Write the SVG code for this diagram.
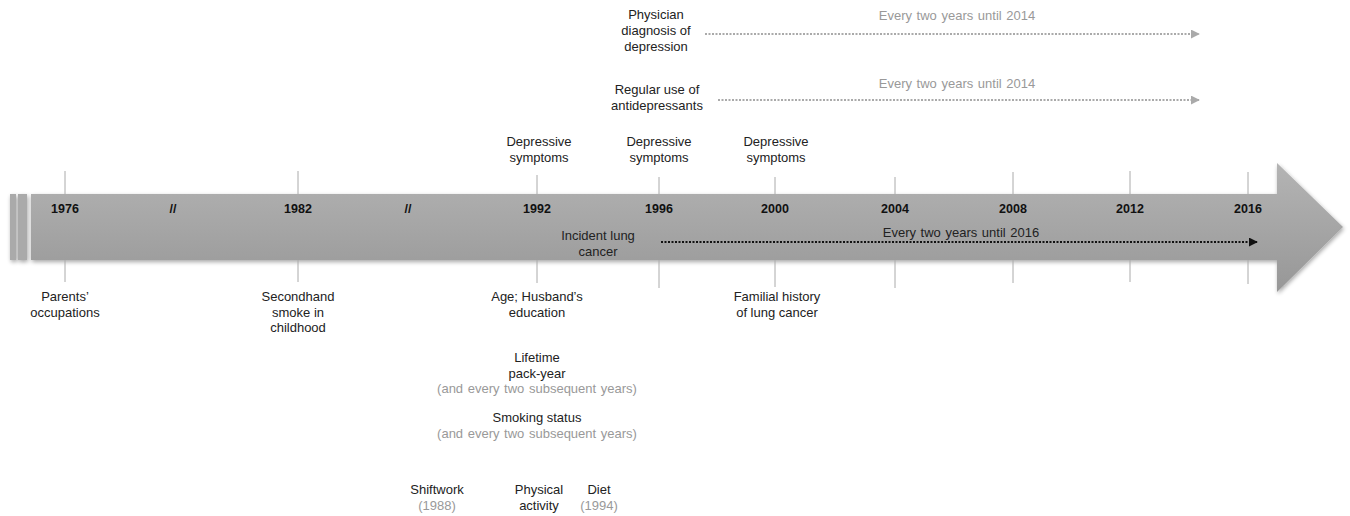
<svg xmlns="http://www.w3.org/2000/svg" width="1350" height="516" viewBox="0 0 1350 516">
<style>
text{font-family:"Liberation Sans",Arial,sans-serif;font-size:13px;fill:#222;text-anchor:middle}
.yr{font-weight:bold;font-size:12.5px;fill:#111}
.g{fill:#999;word-spacing:1px}
.tk{stroke:#aaa;stroke-width:1}
.dk{stroke:#111;stroke-width:2;stroke-dasharray:2,1.5;fill:none}
.dg{stroke:#aaa;stroke-width:2;stroke-dasharray:2,1.5;fill:none}
</style>
<defs>
<linearGradient id="bar" x1="0" y1="0" x2="0" y2="1">
<stop offset="0" stop-color="#b4b4b4"/>
<stop offset="1" stop-color="#979797"/>
</linearGradient>
<filter id="sh" x="-5%" y="-20%" width="110%" height="140%">
<feGaussianBlur in="SourceAlpha" stdDeviation="2"/>
<feOffset dx="1" dy="2"/>
<feComponentTransfer><feFuncA type="linear" slope="0.35"/></feComponentTransfer>
<feMerge><feMergeNode/><feMergeNode in="SourceGraphic"/></feMerge>
</filter>
<marker id="ak" viewBox="0 0 10 10" refX="9" refY="5" markerWidth="4.5" markerHeight="4.5" orient="auto"><path d="M0,0L10,5L0,10z" fill="#111"/></marker>
<marker id="ag" viewBox="0 0 10 10" refX="9" refY="5" markerWidth="4.5" markerHeight="4.5" orient="auto"><path d="M0,0L10,5L0,10z" fill="#aaa"/></marker>
</defs>

<g id="timeline-arrow" filter="url(#sh)">
<rect x="10" y="194" width="6" height="66" fill="#aaa"/>
<rect x="18" y="194" width="9" height="66" fill="#aaa"/>
<path d="M31,194 H1277 V163 L1343,227 L1277,292 V260 H31 Z" fill="url(#bar)"/>
</g>

<g id="ticks">
<line class="tk" x1="65" y1="171" x2="65" y2="194"/><line class="tk" x1="65" y1="260" x2="65" y2="282"/>
<line class="tk" x1="298" y1="171" x2="298" y2="194"/><line class="tk" x1="298" y1="260" x2="298" y2="282"/>
<line class="tk" x1="537" y1="175" x2="537" y2="194"/><line class="tk" x1="537" y1="260" x2="537" y2="283"/>
<line class="tk" x1="659" y1="177" x2="659" y2="194"/><line class="tk" x1="659" y1="260" x2="659" y2="288"/>
<line class="tk" x1="775" y1="177" x2="775" y2="194"/><line class="tk" x1="775" y1="260" x2="775" y2="287"/>
<line class="tk" x1="895" y1="177" x2="895" y2="194"/><line class="tk" x1="895" y1="260" x2="895" y2="288"/>
<line class="tk" x1="1013" y1="172" x2="1013" y2="194"/><line class="tk" x1="1013" y1="260" x2="1013" y2="283"/>
<line class="tk" x1="1130" y1="171" x2="1130" y2="194"/><line class="tk" x1="1130" y1="260" x2="1130" y2="282"/>
<line class="tk" x1="1248" y1="172" x2="1248" y2="194"/><line class="tk" x1="1248" y1="260" x2="1248" y2="284"/>
</g>

<g id="years">
<text class="yr" x="65" y="213">1976</text>
<text class="yr" x="173" y="213">//</text>
<text class="yr" x="298" y="213">1982</text>
<text class="yr" x="408" y="213">//</text>
<text class="yr" x="537" y="213">1992</text>
<text class="yr" x="659" y="213">1996</text>
<text class="yr" x="775" y="213">2000</text>
<text class="yr" x="895" y="213">2004</text>
<text class="yr" x="1013" y="213">2008</text>
<text class="yr" x="1130" y="213">2012</text>
<text class="yr" x="1248" y="213">2016</text>
</g>

<g id="connectors">
<line class="dk" x1="661" y1="242" x2="1257" y2="242" marker-end="url(#ak)"/>
<line class="dg" x1="705" y1="34" x2="1199" y2="34" marker-end="url(#ag)"/>
<line class="dg" x1="718" y1="100" x2="1199" y2="100" marker-end="url(#ag)"/>
</g>

<g id="incident-lung-cancer"><text x="598" y="240">Incident lung</text><text x="598" y="256">cancer</text></g>
<g id="every-2016"><text x="961" y="237" style="word-spacing:1px">Every two years until 2016</text></g>

<g id="physician-diagnosis"><text x="656" y="19">Physician</text><text x="656" y="35">diagnosis of</text><text x="656" y="51">depression</text></g>
<g id="every-2014-a"><text class="g" x="957" y="20">Every two years until 2014</text></g>
<g id="antidepressants"><text x="657" y="94">Regular use of</text><text x="657" y="110">antidepressants</text></g>
<g id="every-2014-b"><text class="g" x="957" y="88">Every two years until 2014</text></g>

<g id="dep-1992"><text x="539" y="146">Depressive</text><text x="539" y="162">symptoms</text></g>
<g id="dep-1996"><text x="659" y="146">Depressive</text><text x="659" y="162">symptoms</text></g>
<g id="dep-2000"><text x="776" y="146">Depressive</text><text x="776" y="162">symptoms</text></g>

<g id="parents"><text x="65" y="301">Parents’</text><text x="65" y="317">occupations</text></g>
<g id="secondhand"><text x="298" y="301">Secondhand</text><text x="298" y="317">smoke in</text><text x="298" y="332">childhood</text></g>
<g id="age-education"><text x="537" y="301">Age; Husband’s</text><text x="537" y="317">education</text></g>
<g id="familial"><text x="777" y="301">Familial history</text><text x="777" y="317">of lung cancer</text></g>
<g id="pack-year"><text x="537" y="362">Lifetime</text><text x="537" y="378">pack-year</text><text class="g" x="537" y="393">(and every two subsequent years)</text></g>
<g id="smoking-status"><text x="537" y="422">Smoking status</text><text class="g" x="537" y="438">(and every two subsequent years)</text></g>
<g id="shiftwork"><text x="437" y="494">Shiftwork</text><text class="g" x="437" y="510">(1988)</text></g>
<g id="physical-activity"><text x="539" y="494">Physical</text><text x="539" y="510">activity</text></g>
<g id="diet"><text x="599" y="494">Diet</text><text class="g" x="599" y="510">(1994)</text></g>
</svg>
